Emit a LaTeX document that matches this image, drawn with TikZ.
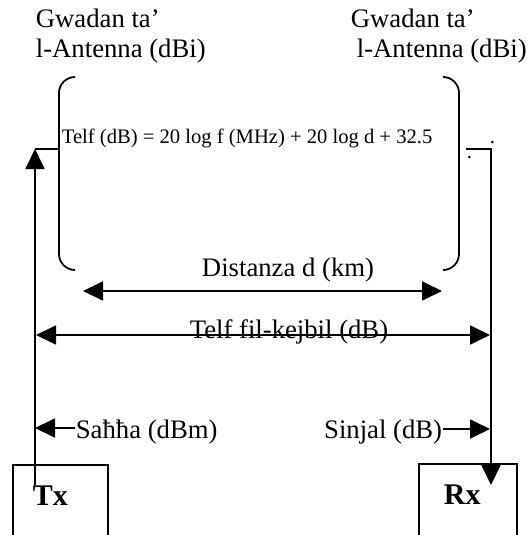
\documentclass[tikz,border=0pt]{standalone}
\usepackage{fontspec}
\setmainfont{Liberation Serif}
\usetikzlibrary{arrows.meta}
\newcommand{\captxt}{\fontsize{26.7}{30}\selectfont}
\newcommand{\eqtxt}{\fontsize{20.6}{24}\selectfont}
\newcommand{\unittxt}{\fontsize{30}{34}\selectfont\bfseries}
\tikzset{
  lbl/.style={font=\captxt, inner sep=0pt, anchor=base west},
  unit/.style={draw, line width=1.8pt, anchor=north west, minimum height=100pt},
  tip/.style={-{Triangle[length=20pt,width=19pt]}},
  dim/.style={{Triangle[length=20pt,width=19pt]}-{Triangle[length=20pt,width=19pt]}},
}
\begin{document}
\begin{tikzpicture}[x=1pt,y=-1pt,line width=1.8pt]
\useasboundingbox (0,0) rectangle (528,535);
\node[lbl] (gainl) at (35,28) {Gwadan ta’};
\node[lbl] (antl) at (35,57) {l-Antenna (dBi)};
\node[lbl] (gainr) at (350,28) {Gwadan ta’};
\node[lbl] (antr) at (356,57) {l-Antenna (dBi)};
\node[lbl,font=\eqtxt] (loss) at (61,143) {Telf (dB) = 20 log f (MHz) + 20 log d + 32.5};
\node[lbl,font=\eqtxt] (dota) at (489,143) {.};
\node[lbl,font=\eqtxt] (dotb) at (466,158) {.};
\draw[rounded corners=16pt] (75,77) -- (59,77) -- (59,270) -- (75,270);
\draw[rounded corners=16pt] (443,77) -- (459,77) -- (459,270) -- (443,270);
\node[lbl,anchor=base] (dist) at (288,276) {Distanza d (km)};
\node[lbl,anchor=base] (cable) at (289,338) {Telf fil-kejbil (dB)};
\node[lbl] (power) at (75,438) {Saħħa (dBm)};
\node[lbl,anchor=base east] (signal) at (443,438) {Sinjal (dB)};
\node[unit,minimum width=95pt] (tx) at (12,464) {};
\node[unit,minimum width=98pt] (rx) at (418,463) {};
\node[font=\unittxt,inner sep=0pt,anchor=base west] (txname) at (32,505) {Tx};
\node[font=\unittxt,inner sep=0pt,anchor=base west] (rxname) at (443,504) {Rx};
\coordinate (txfoot) at (35,485);
\coordinate (txup) at (35,149);
\coordinate (lbr) at (59,149);
\coordinate (rbr) at (466,149);
\coordinate (rcorner) at (491,149);
\coordinate (rxfoot) at (491,485);
\draw[tip] (txfoot) -- (txup);
\draw (txup) -- (lbr);
\draw[tip] (rbr) -- (rcorner) -- (rxfoot);
\draw[dim] (83,291) -- (442,291);
\draw[dim] (36,335) -- (490,335);
\draw[tip] (power.west |- 0,428) -- (35,428);
\draw[tip] (signal.east |- 0,429) -- (490,429);
\end{tikzpicture}
\end{document}
